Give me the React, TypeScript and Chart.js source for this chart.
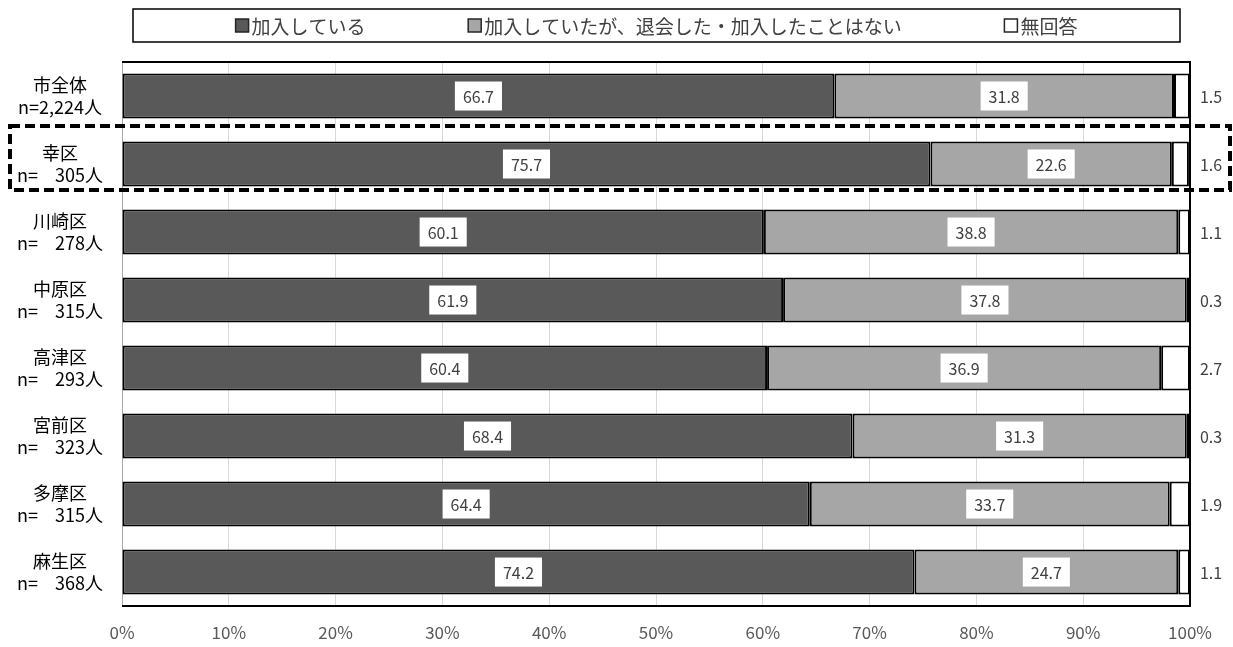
import React, { useEffect, useRef } from "react";
import { Chart, registerables } from "chart.js";

Chart.register(...registerables);

// 町内会・自治会への加入状況（区別）
const categories = ["市全体", "幸区", "川崎区", "中原区", "高津区", "宮前区", "多摩区", "麻生区"];
const sampleSizes = [
  "n=2,224人",
  "n=\u2002  305人",
  "n=\u2002  278人",
  "n=\u2002  315人",
  "n=\u2002  293人",
  "n=\u2002  323人",
  "n=\u2002  315人",
  "n=\u2002  368人",
];
const joined = [66.7, 75.7, 60.1, 61.9, 60.4, 68.4, 64.4, 74.2];
const leftOrNever = [31.8, 22.6, 38.8, 37.8, 36.9, 31.3, 33.7, 24.7];
const noAnswer = [1.5, 1.6, 1.1, 0.3, 2.7, 0.3, 1.9, 1.1];
const seriesNames = ["加入している", "加入していたが、退会した・加入したことはない", "無回答"];
const seriesColors = ["#595959", "#a6a6a6", "#ffffff"];
const highlightIndex = 1;

const FONT = '"Noto Sans CJK JP", "Noto Sans", sans-serif';

const overlayPlugin = {
  id: "overlay",
  afterDatasetsDraw(chart: any) {
    const ctx = chart.ctx as CanvasRenderingContext2D;
    const area = chart.chartArea;
    ctx.save();

    // plot frame: top, right, bottom
    ctx.strokeStyle = "#000";
    ctx.lineWidth = 2;
    ctx.beginPath();
    ctx.moveTo(area.left, area.top);
    ctx.lineTo(area.right, area.top);
    ctx.lineTo(area.right, area.bottom);
    ctx.lineTo(area.left, area.bottom);
    ctx.stroke();

    // value labels
    ctx.font = `16px ${FONT}`;
    ctx.textBaseline = "middle";
    ctx.textAlign = "center";
    chart.data.datasets.forEach((ds: any, di: number) => {
      const meta = chart.getDatasetMeta(di);
      meta.data.forEach((bar: any, i: number) => {
        const { x, y, base } = bar.getProps(["x", "y", "base"], true);
        const text = Number(ds.data[i]).toFixed(1);
        if (di < 2) {
          const cx = (x + base) / 2;
          const w = ctx.measureText(text).width + 16;
          const h = 29;
          ctx.fillStyle = "#fff";
          ctx.fillRect(cx - w / 2, y - h / 2, w, h);
          ctx.fillStyle = "#404040";
          ctx.fillText(text, cx, y + 1);
        } else {
          ctx.fillStyle = "#404040";
          ctx.fillText(text, area.right + 21, y + 1);
        }
      });
    });

    // dashed frame around the highlighted ward
    const yScale = chart.scales.y;
    const yc = yScale.getPixelForValue(highlightIndex);
    ctx.setLineDash([10, 5]);
    ctx.lineWidth = 4;
    ctx.strokeStyle = "#000";
    ctx.strokeRect(10, yc - 38, area.right + 40 - 10, 64);
    ctx.setLineDash([]);

    // legend
    const lx = 133, ly = 9, lw = 1047, lh = 33;
    ctx.lineWidth = 1.5;
    ctx.strokeStyle = "#000";
    ctx.strokeRect(lx, ly, lw, lh);
    ctx.font = `19px ${FONT}`;
    ctx.textAlign = "left";
    const sq = 13, sqGap = 3;
    const widths = chart.data.datasets.map((ds: any) => sq + sqGap + ctx.measureText(ds.label).width);
    const total = widths.reduce((a: number, b: number) => a + b, 0);
    const space = (lw - total) / (widths.length + 1);
    let cur = lx + space;
    chart.data.datasets.forEach((ds: any, di: number) => {
      const cy = ly + lh / 2;
      ctx.fillStyle = ds.backgroundColor;
      ctx.fillRect(cur, cy - sq / 2, sq, sq);
      ctx.lineWidth = 1.5;
      ctx.strokeStyle = "#262626";
      ctx.strokeRect(cur, cy - sq / 2, sq, sq);
      ctx.fillStyle = "#404040";
      ctx.fillText(ds.label, cur + sq + sqGap, cy + 1);
      cur += widths[di] + space;
    });

    ctx.restore();
  },
};

export default function App() {
  const canvasRef = useRef<HTMLCanvasElement | null>(null);

  useEffect(() => {
    if (!canvasRef.current) return;
    const values = [joined, leftOrNever, noAnswer];
    const chart = new Chart(canvasRef.current, {
      type: "bar",
      data: {
        labels: categories.map((c, i) => [c, sampleSizes[i]]),
        datasets: values.map((data, i) => ({
          label: seriesNames[i],
          data,
          backgroundColor: seriesColors[i],
          borderColor: "#000",
          borderWidth: 2,
          borderSkipped: false,
          categoryPercentage: 1,
          barPercentage: 0.66,
        })),
      },
      options: {
        indexAxis: "y",
        animation: false,
        responsive: true,
        maintainAspectRatio: false,
        layout: { padding: { top: 62, right: 43, left: 0, bottom: 0 } },
        plugins: { legend: { display: false }, tooltip: { enabled: false } },
        scales: {
          x: {
            stacked: true,
            min: 0,
            max: 100,
            ticks: {
              stepSize: 10,
              callback: (v: any) => `${v}%`,
              color: "#595959",
              font: { family: FONT, size: 17 },
              padding: 16,
            },
            grid: { color: "#d9d9d9", lineWidth: 1, drawTicks: false },
            border: { display: false },
            afterFit: (scale: any) => {
              scale.height = 40;
            },
          },
          y: {
            stacked: true,
            ticks: {
              color: "#000",
              font: { family: FONT, size: 18, lineHeight: 1.22 },
              crossAlign: "center",
              padding: 19,
            },
            grid: { display: false, drawTicks: false },
            border: { display: true, color: "#a6a6a6", width: 1 },
            afterFit: (scale: any) => {
              scale.width = 122;
            },
          },
        },
      },
      plugins: [overlayPlugin],
    });
    return () => chart.destroy();
  }, []);

  return (
    <div style={{ position: "absolute", left: 0, top: 0, width: 1233, height: 647, background: "#fff" }}>
      <canvas ref={canvasRef} />
    </div>
  );
}
